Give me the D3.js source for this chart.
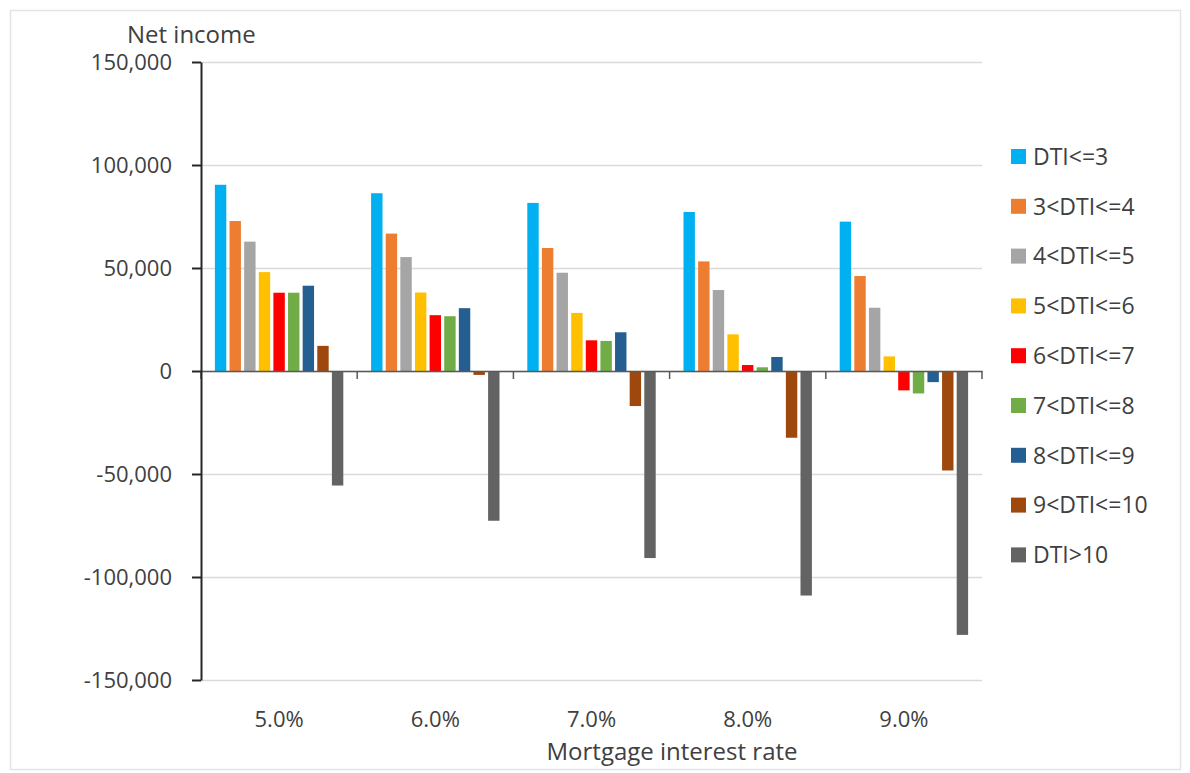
<!DOCTYPE html>
<html>
<head>
<meta charset="utf-8">
<script src="https://cdn.jsdelivr.net/npm/d3@7"></script>
<style>
    body { margin:0; background:#fff; }
    svg { font-family:'Open Sans', 'Noto Sans', sans-serif; }
</style>
</head>
<body>
<div id="chart"></div>
<script>
// chart data
const rates = ['5.0%', '6.0%', '7.0%', '8.0%', '9.0%'];
const series = ['DTI<=3', '3<DTI<=4', '4<DTI<=5', '5<DTI<=6', '6<DTI<=7', '7<DTI<=8', '8<DTI<=9', '9<DTI<=10', 'DTI>10'];
const colors = ['#00b0f0', '#ed7d31', '#a5a5a5', '#ffc000', '#ff0000', '#70ad47', '#255e91', '#9e480e', '#636363'];
// one array per interest rate, in series order
const rate50 = [90400, 72800, 62800, 48000, 38000, 38000, 41400, 12200, -55600];
const rate60 = [86300, 66700, 55300, 38100, 27100, 26600, 30500, -1900, -72700];
const rate70 = [81600, 59700, 47700, 28200, 14900, 14600, 18800, -17000, -90800];
const rate80 = [77200, 53200, 39300, 17800, 2900, 1800, 6800, -32400, -109000];
const rate90 = [72500, 46100, 30700, 7100, -9400, -10900, -5400, -48300, -128100];
const yTicks = [-150000, -100000, -50000, 0, 50000, 100000, 150000];

const values = [rate50, rate60, rate70, rate80, rate90];
const data = rates.map((r, i) => ({rate:r, values:series.map((s, j) => ({key:s, value:values[i][j], color:colors[j]}))}));

// layout
const width = 1190;
const height = 773;
const margin = {t:62, r:208, b:93, l:201};

const svg = d3.select('#chart')
    .append('svg')
    .attr('width', width)
    .attr('height', height);

// outer frame
svg.append('rect')
    .attr('x', 10.5)
    .attr('y', 10.5)
    .attr('width', 1170)
    .attr('height', 759)
    .style('fill', '#fff')
    .style('stroke', '#e4e4e4')
    .style('stroke-width', 1.5);

// scales
const scaleX0 = d3.scaleBand()
    .domain(rates)
    .range([margin.l, width - margin.r]);
const scaleX1 = d3.scaleBand()
    .domain(series)
    .range([0, scaleX0.bandwidth()])
    .paddingInner(0.22)
    .paddingOuter(0.95);
const scaleY = d3.scaleLinear()
    .domain([-150000, 150000])
    .range([height - margin.b, margin.t]);

// gridlines
svg.append('g')
    .selectAll('line')
    .data(yTicks)
    .join('line')
    .attr('x1', margin.l)
    .attr('x2', width - margin.r)
    .attr('y1', d => scaleY(d) + 0.5)
    .attr('y2', d => scaleY(d) + 0.5)
    .style('stroke', '#dadada')
    .style('stroke-width', 1.5);

// bars
const groups = svg.append('g')
    .selectAll('.group')
    .data(data)
    .join('g')
    .attr('class', 'group')
    .attr('transform', d => `translate(${scaleX0(d.rate)},0)`);

groups.selectAll('rect')
    .data(d => d.values)
    .join('rect')
    .attr('x', d => scaleX1(d.key))
    .attr('width', scaleX1.bandwidth())
    .attr('y', d => scaleY(Math.max(0, d.value)))
    .attr('height', d => Math.abs(scaleY(d.value) - scaleY(0)))
    .style('fill', d => d.color);

// horizontal zero axis with category ticks
const axisX = d3.axisBottom(scaleX0)
    .tickValues([])
    .tickSizeOuter(0);
svg.append('g')
    .attr('transform', `translate(0,${scaleY(0)})`)
    .call(axisX)
    .call(g => g.select('.domain').style('stroke', '#595959').style('stroke-width', 1.5));

svg.append('g')
    .selectAll('line')
    .data(rates.map(r => scaleX0(r)).concat([width - margin.r]))
    .join('line')
    .attr('x1', d => d)
    .attr('x2', d => d)
    .attr('y1', scaleY(0))
    .attr('y2', scaleY(0) + 8)
    .style('stroke', '#595959')
    .style('stroke-width', 1.5);

// category labels below the plot
svg.append('g')
    .selectAll('text')
    .data(rates)
    .join('text')
    .attr('x', d => scaleX0(d) + scaleX0.bandwidth() / 2)
    .attr('y', 727)
    .attr('text-anchor', 'middle')
    .style('font-size', '22px')
    .style('fill', '#404040')
    .text(d => d);

// y axis
const axisY = d3.axisLeft(scaleY)
    .tickValues(yTicks)
    .tickSize(9)
    .tickSizeOuter(0)
    .tickPadding(20)
    .tickFormat(d => d3.format(',')(d).replace('\u2212', '-'));
svg.append('g')
    .attr('transform', `translate(${margin.l},0)`)
    .call(axisY)
    .call(g => g.select('.domain').style('stroke', '#262626').style('stroke-width', 2))
    .call(g => g.selectAll('.tick line').style('stroke', '#262626').style('stroke-width', 2))
    .call(g => g.selectAll('.tick text')
        .style('font-size', '22px')
        .style('font-family', "'Open Sans', sans-serif")
        .style('fill', '#404040'));

// axis titles
svg.append('text')
    .attr('x', 127)
    .attr('y', 43)
    .style('font-size', '24px')
    .style('fill', '#404040')
    .text('Net income');

svg.append('text')
    .attr('x', 672)
    .attr('y', 760)
    .attr('text-anchor', 'middle')
    .style('font-size', '24px')
    .style('fill', '#404040')
    .text('Mortgage interest rate');

// legend
const legend = svg.append('g')
    .selectAll('.legend-item')
    .data(series)
    .join('g')
    .attr('class', 'legend-item')
    .attr('transform', (d, i) => `translate(1011,${156.5 + i * 49.8})`);

legend.append('rect')
    .attr('x', 0)
    .attr('y', -7.5)
    .attr('width', 15)
    .attr('height', 15)
    .style('fill', (d, i) => colors[i]);

legend.append('text')
    .attr('x', 22)
    .attr('y', 0)
    .attr('dy', '0.36em')
    .style('font-size', '23px')
    .style('fill', '#404040')
    .text(d => d);
</script>
</body>
</html>
